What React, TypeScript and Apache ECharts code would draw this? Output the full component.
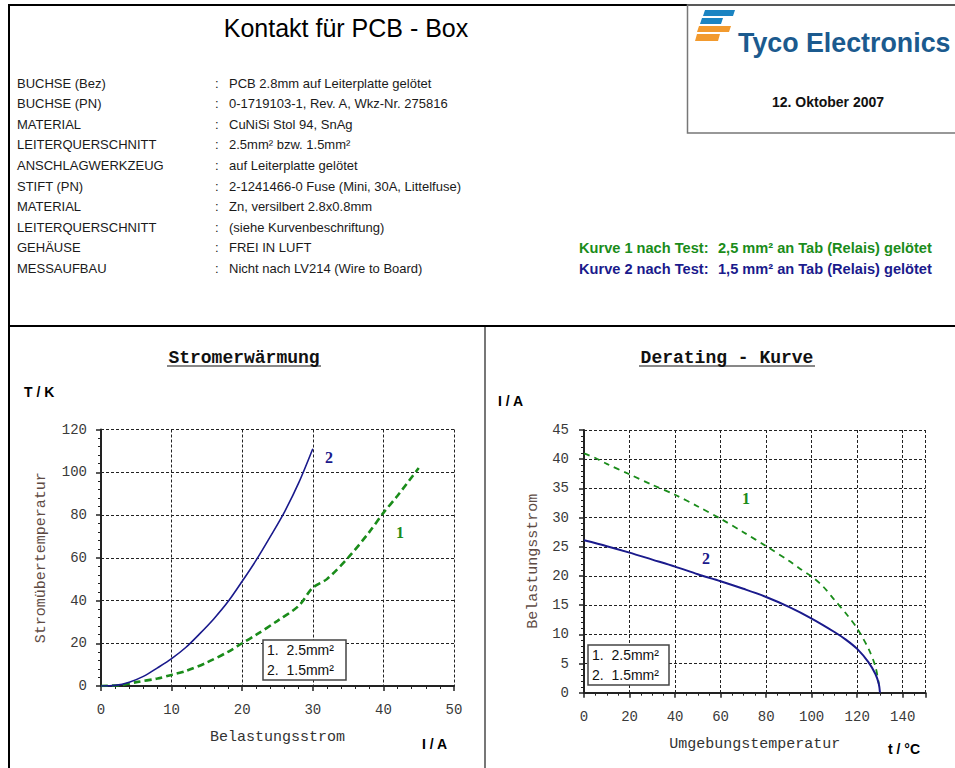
import React, { useEffect, useRef } from 'react';
import * as echarts from 'echarts';

// ---------- data ----------
const infoLabels = ['BUCHSE (Bez)', 'BUCHSE (PN)', 'MATERIAL', 'LEITERQUERSCHNITT', 'ANSCHLAGWERKZEUG', 'STIFT (PN)', 'MATERIAL', 'LEITERQUERSCHNITT', 'GEHÄUSE', 'MESSAUFBAU'];
const infoValues = ['PCB 2.8mm auf Leiterplatte gelötet', '0-1719103-1, Rev. A, Wkz-Nr. 275816', 'CuNiSi Stol 94, SnAg', '2.5mm² bzw. 1.5mm²', 'auf Leiterplatte gelötet', '2-1241466-0 Fuse (Mini, 30A, Littelfuse)', 'Zn, versilbert 2.8x0.8mm', '(siehe Kurvenbeschriftung)', 'FREI IN LUFT', 'Nicht nach LV214 (Wire to Board)'];

// Stromerwärmung: Kurve 1 (2.5mm²)
const heatCurrent25 = [0, 3, 5, 8, 10, 12, 15, 18, 20, 22, 25, 28, 30, 32, 35, 38, 40, 42, 45];
const heatTemp25 = [0, 0.5, 1.8, 3.5, 5.2, 7, 11, 16, 20, 24, 30.5, 37.5, 46, 50, 60, 72, 81, 89, 102];
// Stromerwärmung: Kurve 2 (1.5mm²)
const heatCurrent15 = [0, 2, 4, 6, 8, 10, 12, 14, 16, 18, 20, 22, 24, 26, 28, 30];
const heatTemp15 = [0, 0.3, 1.8, 4.5, 8.5, 12.8, 18, 24.5, 31.5, 39.5, 49, 59, 70, 81.5, 95, 111];

// Derating: Kurve 1 (2.5mm²)
const derTemp25 = [0, 5, 10, 20, 30, 40, 50, 60, 70, 80, 90, 95, 100, 105, 110, 115, 120, 125, 128, 129.5];
const derCurr25 = [41, 40.2, 39.2, 37.4, 35.6, 33.9, 31.9, 29.8, 27.5, 25.1, 22.6, 21.2, 19.9, 18.2, 15.9, 13.6, 11, 7.5, 4.5, 1.5];
// Derating: Kurve 2 (1.5mm²)
const derTemp15 = [0, 10, 20, 30, 40, 50, 60, 70, 80, 90, 100, 110, 115, 120, 125, 128, 129.5, 130];
const derCurr15 = [26.1, 25.1, 24, 22.8, 21.6, 20.3, 19.1, 17.8, 16.4, 14.7, 12.7, 10.4, 9.1, 7.5, 5.2, 3.2, 1.5, 0];

const legendLines = ['1.  2.5mm²', '2.  1.5mm²'];

const GREEN = '#1a8c1a';
const NAVY = '#1a1a8c';
const MONO = '"Liberation Mono", "DejaVu Sans Mono", monospace';
const SANS = '"Liberation Sans", Arial, sans-serif';
const SERIF = '"Liberation Serif", "Times New Roman", serif';

const zip = (a: number[], b: number[]) => a.map((v, i) => [v, b[i]]);

function txt(x: number, y: number, text: string, font: string, fill: string, align = 'left', extra: any = {}) {
  return {
    type: 'text', x, y, z: 10,
    style: { text, font, fill, align, textAlign: align, verticalAlign: 'middle', textVerticalAlign: 'middle' },
    ...extra,
  };
}
function ln(x1: number, y1: number, x2: number, y2: number, stroke: string, lineWidth: number) {
  return { type: 'line', z: 10, shape: { x1, y1, x2, y2 }, style: { stroke, lineWidth } };
}

function valueAxis(gridIndex: number, min: number, max: number, interval: number, minorSplit: number, labelMargin: number, name: string, nameGap: number, isY: boolean, hideAbove?: number) {
  return {
    type: 'value', gridIndex, min, max, interval,
    axisLine: { show: true, onZero: false, lineStyle: { color: '#222', width: 2 } },
    axisTick: { show: true, length: 5, lineStyle: { color: '#222', width: 1.5 } },
    minorTick: { show: true, splitNumber: minorSplit, length: 3, lineStyle: { color: '#222', width: 1 } },
    splitLine: { show: true, lineStyle: { color: '#222', type: [3, 2], width: 1 } },
    axisLabel: {
      margin: labelMargin, fontFamily: MONO, fontSize: 14, color: '#3a3a3a',
      formatter: (v: number) => (hideAbove !== undefined && v > hideAbove ? '' : String(v)),
    },
    name, nameLocation: 'middle', nameGap,
    nameTextStyle: { fontFamily: MONO, fontSize: 15, color: isY ? '#5e4b44' : '#333' },
  };
}

export default function App() {
  const ref = useRef<HTMLDivElement>(null);
  useEffect(() => {
    if (!ref.current) return;
    const chart = echarts.init(ref.current, undefined, { renderer: 'svg' });

    const graphics: any[] = [];
    // frame
    graphics.push(ln(8, 5, 955, 5, '#000', 2));
    graphics.push(ln(9, 4, 9, 768, '#000', 2));
    graphics.push(ln(9, 326, 955, 326, '#000', 2));
    graphics.push(ln(485, 327, 485, 768, '#777', 2));
    graphics.push({ type: 'rect', z: 10, shape: { x: 687.5, y: 5, width: 280, height: 128 }, style: { fill: 'none', stroke: '#777', lineWidth: 1.5 } });

    // main title
    graphics.push(txt(346, 28, 'Kontakt für PCB - Box', `25px ${SANS}`, '#000', 'center'));

    // info block
    infoLabels.forEach((l, i) => {
      const y = 83 + i * 20.6;
      graphics.push(txt(17, y, l, `13px ${SANS}`, '#1a1a1a'));
      graphics.push(txt(215, y, ':', `13px ${SANS}`, '#1a1a1a'));
      graphics.push(txt(229, y, infoValues[i], `13px ${SANS}`, '#1a1a1a'));
    });

    // Kurve notes
    graphics.push(txt(579, 248, 'Kurve 1 nach Test:', `bold 14.6px ${SANS}`, GREEN));
    graphics.push(txt(718, 248, '2,5 mm² an Tab (Relais) gelötet', `bold 14.6px ${SANS}`, GREEN));
    graphics.push(txt(579, 269, 'Kurve 2 nach Test:', `bold 14.6px ${SANS}`, NAVY));
    graphics.push(txt(718, 269, '1,5 mm² an Tab (Relais) gelötet', `bold 14.6px ${SANS}`, NAVY));

    // logo
    const bar = (pts: number[][], fill: string) => ({ type: 'polygon', z: 10, shape: { points: pts }, style: { fill } });
    graphics.push(bar([[705, 10], [735, 10], [733, 16], [703, 16]], '#1b84c2'));
    graphics.push(bar([[702, 18], [723, 18], [721, 24], [700, 24]], '#1b84c2'));
    graphics.push(bar([[699, 26], [731, 26], [729, 32], [697, 32]], '#f29a2e'));
    graphics.push(bar([[697, 34], [720, 34], [718, 41], [695, 41]], '#f29a2e'));
    graphics.push(txt(738, 43, 'Tyco Electronics', `bold 26.8px ${SANS}`, '#1b5a8e'));
    graphics.push(txt(828, 102, '12. Oktober 2007', `bold 14px ${SANS}`, '#111', 'center'));

    // chart titles
    graphics.push(txt(244, 358, 'Stromerwärmung', `bold 18px ${MONO}`, '#111', 'center'));
    graphics.push(ln(167, 366, 321, 366, '#111', 1));
    graphics.push(txt(727, 358, 'Derating - Kurve', `bold 18px ${MONO}`, '#111', 'center'));
    graphics.push(ln(639, 366, 815, 366, '#111', 1));

    // units
    graphics.push(txt(24, 392, 'T / K', `bold 14px ${SANS}`, '#000'));
    graphics.push(txt(422, 744, 'I / A', `bold 14px ${SANS}`, '#000'));
    graphics.push(txt(498, 401, 'I / A', `bold 14px ${SANS}`, '#000'));
    graphics.push(txt(888, 749, 't / °C', `bold 14px ${SANS}`, '#000'));

    // legend boxes
    const legendBox = (x: number, y: number, w: number, h: number) => {
      graphics.push({ type: 'rect', z: 10, shape: { x, y, width: w, height: h }, style: { fill: '#fff', stroke: '#444', lineWidth: 1.5 } });
      legendLines.forEach((t, i) => graphics.push(txt(x + 4, y + 10 + i * 20, t, `14px ${SANS}`, '#111')));
    };
    legendBox(263, 640, 83, 40);
    legendBox(588, 645, 81, 40);

    // curve labels
    graphics.push(txt(329, 457, '2', `bold 16px ${SERIF}`, NAVY, 'center'));
    graphics.push(txt(400, 532, '1', `bold 16px ${SERIF}`, GREEN, 'center'));
    graphics.push(txt(746, 498, '1', `bold 16px ${SERIF}`, GREEN, 'center'));
    graphics.push(txt(706, 558, '2', `bold 16px ${SERIF}`, NAVY, 'center'));

    chart.setOption({
      animation: false,
      backgroundColor: '#fff',
      grid: [
        { left: 101, top: 429.5, width: 353, height: 256.5 },
        { left: 584, top: 430, width: 341.5, height: 262.7 },
      ],
      xAxis: [
        valueAxis(0, 0, 50, 10, 5, 17, 'Belastungsstrom', 44, false),
        valueAxis(1, 0, 150, 20, 4, 17, 'Umgebungstemperatur', 44, false, 140),
      ],
      yAxis: [
        valueAxis(0, 0, 120, 20, 5, 14, 'Stromübertemperatur', 52, true),
        valueAxis(1, 0, 45, 5, 5, 15, 'Belastungsstrom', 43, true),
      ],
      series: [
        {
          type: 'line', name: 'Kurve 1', xAxisIndex: 0, yAxisIndex: 0, data: zip(heatCurrent25, heatTemp25),
          showSymbol: false, symbol: 'none', smooth: 0.3,
          lineStyle: { color: GREEN, width: 2.6, type: [7, 4] },
        },
        {
          type: 'line', name: 'Kurve 2', xAxisIndex: 0, yAxisIndex: 0, data: zip(heatCurrent15, heatTemp15),
          showSymbol: false, symbol: 'none', smooth: 0.3,
          lineStyle: { color: NAVY, width: 1.6 },
        },
        {
          type: 'line', name: 'Kurve 1', xAxisIndex: 1, yAxisIndex: 1, data: zip(derTemp25, derCurr25),
          showSymbol: false, symbol: 'none', smooth: 0.3,
          lineStyle: { color: GREEN, width: 1.8, type: [6, 5] },
        },
        {
          type: 'line', name: 'Kurve 2', xAxisIndex: 1, yAxisIndex: 1, data: zip(derTemp15, derCurr15),
          showSymbol: false, symbol: 'none', smooth: 0.3,
          lineStyle: { color: NAVY, width: 2 },
        },
      ],
      graphic: { elements: graphics },
    });
    return () => chart.dispose();
  }, []);
  return <div ref={ref} style={{ position: 'fixed', left: 0, top: 0, width: 955, height: 768, background: '#fff' }} />;
}
